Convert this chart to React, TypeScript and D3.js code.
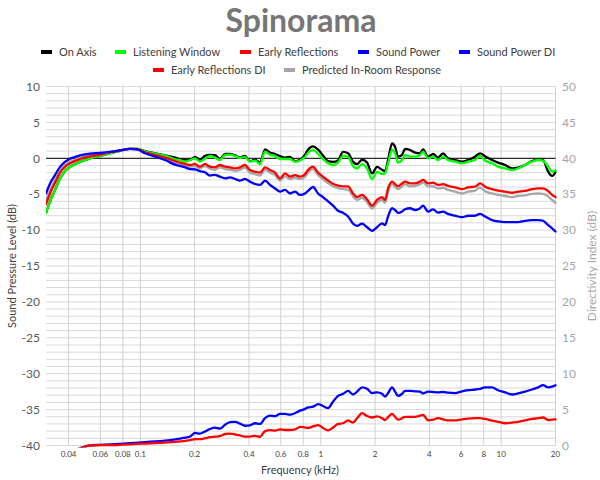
import React from "react";
import * as d3 from "d3";

const FREQ = [0.030,0.0316,0.0337,0.0359,0.0382,0.0408,0.0463,0.0526,0.0598,0.0679,0.0772,0.0876,0.0959,0.106,0.121,0.137,0.156,0.166,0.177,0.189,0.201,0.214,0.228,0.243,
0.259,0.276,0.295,0.314,0.335,0.357,0.380,0.405,0.432,0.461,0.491,0.523,0.558,0.595,0.634,0.676,0.720,0.768,0.818,
0.850,0.906,0.966,1.029,1.097,1.169,1.246,1.329,1.417,1.510,1.589,1.694,1.805,1.924,2.051,2.186,2.271,
2.360,2.484,2.581,2.682,2.822,2.932,3.125,3.332,3.551,3.690,3.933,4.193,4.468,4.763,5.076,5.551,6.069,6.551,7.164,7.638,8.140,8.900,9.609,10.51,11.49,12.40,13.56,14.83,16.01,17.07,18.19,19.15,20.0];

const ON_AXIS = [-7.6,-6.0,-4.4,-2.8,-1.8,-1.2,-0.5,0.0,0.32,0.7,1.05,1.3,1.3,1.0,0.68,0.4,0.09,-0.15,-0.24,-0.2,0.2,-0.24,0.35,0.46,
0.45,-0.1,0.6,0.6,0.4,0.15,0.35,-0.4,-0.2,-0.6,1.25,0.8,0.6,0.3,0.1,0.2,-0.4,-0.2,0.5,
1.2,1.65,1.2,0.4,-0.4,-0.5,-0.3,0.9,0.7,-0.5,-0.8,-0.2,-0.6,-2.1,-1.2,-1.6,-1.8,
-0.24,2.08,1.6,0.23,0.5,1.3,1.16,0.78,0.69,1.25,0.23,0.6,0.09,0.69,0.0,-0.24,-0.47,-0.24,0.23,0.69,0.3,-0.24,-0.6,-0.93,-1.4,-1.3,-0.93,-0.37,-0.14,-0.24,-1.86,-2.46,-1.9];

const LISTENING_WINDOW = [-7.6,-6.0,-4.4,-2.8,-1.8,-1.2,-0.5,0.0,0.32,0.7,1.05,1.3,1.3,0.97,0.65,0.37,-0.14,-0.24,-0.47,-0.24,0.0,-0.47,-0.05,0.32,
0.1,-0.24,0.46,0.5,0.32,0.05,0.2,-0.47,-0.33,-0.8,0.92,0.5,0.3,-0.1,-0.1,-0.1,-0.5,-0.3,0.2,
0.78,1.16,0.6,-0.1,-0.7,-0.93,-0.6,0.35,0.2,-1.1,-1.4,-0.8,-1.4,-2.9,-1.9,-2.2,-2.1,
-0.7,1.16,0.7,-0.6,-0.24,0.46,0.23,0.23,0.46,0.92,0.0,0.23,-0.24,0.23,-0.24,-0.47,-0.7,-0.47,-0.24,0.32,-0.3,-0.7,-1.16,-1.4,-1.63,-1.4,-0.93,-0.47,-0.24,-0.33,-1.16,-1.86,-1.7];

const EARLY_REFLECTIONS = [-6.4,-4.9,-3.4,-2.0,-1.2,-0.7,-0.1,0.27,0.5,0.85,1.1,1.3,1.28,0.83,0.45,0.09,-0.38,-0.6,-0.79,-0.93,-0.79,-1.17,-0.79,-1.17,
-1.26,-0.93,-1.17,-1.26,-1.4,-1.26,-0.93,-1.63,-1.86,-2.0,-1.26,-1.63,-2.0,-2.79,-2.1,-2.56,-2.33,-2.56,-2.2,
-1.63,-1.17,-2.0,-2.56,-3.1,-3.55,-3.8,-3.9,-3.9,-4.9,-5.4,-5.1,-5.7,-6.6,-5.8,-5.4,-5.8,
-4.2,-3.25,-3.6,-3.9,-3.5,-3.25,-3.5,-3.5,-3.25,-3.0,-3.5,-3.4,-3.7,-3.6,-3.85,-4.04,-4.3,-4.04,-3.95,-3.5,-3.95,-4.3,-4.5,-4.65,-4.8,-4.65,-4.55,-4.3,-4.2,-4.2,-4.55,-5.1,-5.4];

const SOUND_POWER = [-4.9,-3.5,-2.3,-1.2,-0.5,-0.05,0.4,0.65,0.74,0.88,1.1,1.3,1.25,0.7,0.23,-0.24,-0.89,-1.07,-1.26,-1.5,-1.55,-1.8,-1.95,-2.4,
-2.3,-2.56,-2.79,-2.65,-2.88,-3.1,-2.88,-3.25,-3.58,-3.7,-3.1,-3.7,-4.2,-4.65,-4.4,-4.9,-4.65,-5.1,-4.9,
-4.55,-4.0,-4.9,-5.4,-6.0,-6.6,-7.3,-7.6,-8.1,-9.1,-9.4,-9.1,-9.6,-10.1,-9.6,-9.05,-9.3,
-8.1,-6.96,-7.2,-7.6,-7.4,-7.1,-6.96,-7.2,-6.96,-6.6,-7.43,-7.1,-7.57,-7.43,-7.75,-8.0,-8.2,-8.0,-8.0,-7.75,-8.1,-8.6,-8.8,-8.9,-8.9,-8.9,-8.7,-8.6,-8.6,-8.7,-9.3,-9.75,-10.2];

const PREDICTED_IN_ROOM = [-5.9,-4.4,-3.0,-1.8,-0.95,-0.5,0.1,0.4,0.6,0.87,1.1,1.3,1.27,0.78,0.35,-0.05,-0.6,-0.84,-1.03,-1.17,-1.07,-1.4,-1.07,-1.45,
-1.6,-1.25,-1.5,-1.6,-1.75,-1.6,-1.3,-2.0,-2.2,-2.4,-1.6,-2.0,-2.35,-3.1,-2.5,-2.9,-2.7,-2.9,-2.6,
-2.0,-1.5,-2.35,-2.9,-3.45,-3.9,-4.15,-4.3,-4.35,-5.3,-5.8,-5.5,-6.1,-7.0,-6.2,-5.8,-6.2,
-4.65,-3.6,-4.0,-4.3,-3.95,-3.6,-3.9,-3.85,-3.6,-3.4,-3.9,-3.9,-4.2,-4.1,-4.4,-4.65,-4.9,-4.65,-4.5,-4.04,-4.6,-4.9,-5.1,-5.25,-5.4,-5.25,-5.15,-4.95,-4.9,-4.95,-5.3,-5.8,-6.2];

const SOUND_POWER_DI = [-2.0,-1.8,-1.6,-1.4,-1.2,-0.9,-0.4,0.02,0.1,0.15,0.22,0.32,0.4,0.46,0.56,0.68,0.85,0.95,1.1,1.25,1.75,1.65,1.95,2.3,
2.5,2.35,2.9,3.25,3.3,3.05,2.75,2.8,3.1,3.0,3.8,4.15,4.1,4.4,4.4,4.3,4.5,4.85,5.1,
5.3,5.4,5.75,5.5,5.2,6.1,6.9,7.2,7.6,7.1,7.5,8.1,7.9,7.3,7.4,7.2,6.8,
7.3,8.1,7.5,6.9,7.2,7.6,7.6,7.55,7.5,7.25,7.5,7.45,7.4,7.45,7.35,7.3,7.55,7.7,7.8,7.9,8.1,8.1,7.7,7.4,7.1,7.25,7.5,7.8,8.1,8.4,8.1,8.2,8.4];

const EARLY_REFLECTIONS_DI = [-2.0,-1.8,-1.6,-1.4,-1.2,-0.9,-0.4,0.0,0.04,0.06,0.1,0.17,0.22,0.27,0.35,0.42,0.5,0.56,0.65,0.74,0.9,0.88,1.0,1.17,
1.23,1.3,1.6,1.65,1.55,1.4,1.23,1.25,1.35,1.2,2.0,2.15,2.07,2.25,2.16,2.16,2.25,2.6,2.5,
2.45,2.65,2.85,2.45,2.1,2.5,3.0,3.1,3.5,3.2,3.8,4.5,4.1,3.9,4.05,3.8,3.55,
3.95,4.4,4.0,3.6,3.8,4.0,4.0,4.0,4.15,4.25,3.5,3.6,3.8,3.65,3.5,3.5,3.65,3.75,3.8,3.8,3.7,3.45,3.3,3.1,3.2,3.3,3.5,3.7,3.8,3.9,3.55,3.6,3.65];

const X_TICKS = [0.04, 0.06, 0.08, 0.1, 0.2, 0.4, 0.6, 0.8, 1, 2, 4, 6, 8, 10, 20];
const Y_TICKS = [-40, -35, -30, -25, -20, -15, -10, -5, 0, 5, 10];
const DI_TICKS = [0, 5, 10, 15, 20, 25, 30, 35, 40, 45, 50];

const SERIES_LEFT = [
  { name: "On Axis", values: ON_AXIS, color: "#000000" },
  { name: "Listening Window", values: LISTENING_WINDOW, color: "#00ff00" },
  { name: "Predicted In-Room Response", values: PREDICTED_IN_ROOM, color: "#a6a6a6" },
  { name: "Early Reflections", values: EARLY_REFLECTIONS, color: "#ff0000" },
  { name: "Sound Power", values: SOUND_POWER, color: "#0000ff" },
];
const SERIES_RIGHT = [
  { name: "Sound Power DI", values: SOUND_POWER_DI, color: "#0000ff" },
  { name: "Early Reflections DI", values: EARLY_REFLECTIONS_DI, color: "#ff0000" },
];

const LEGEND_ROW1 = [
  { name: "On Axis", color: "#000000" },
  { name: "Listening Window", color: "#00ff00" },
  { name: "Early Reflections", color: "#ff0000" },
  { name: "Sound Power", color: "#0000ff" },
  { name: "Sound Power DI", color: "#0000ff" },
];
const LEGEND_ROW2 = [
  { name: "Early Reflections DI", color: "#ff0000" },
  { name: "Predicted In-Room Response", color: "#a6a6a6" },
];

const FONT = "Lato, 'Open Sans', sans-serif";

function fmtTick(v: number) {
  return String(v);
}

export default function App() {
  const W = 600, H = 480;
  const L = 46, R = 555.5, T = 86.5, B = 445.5;
  const x = d3.scaleLog().domain([0.03, 20]).range([L, R]);
  const y = d3.scaleLinear().domain([-40, 10]).range([B, T]);
  const yR = d3.scaleLinear().domain([0, 50]).range([B, T]);

  const lineL = d3.line<number>().x((_, i) => x(FREQ[i])).y((d) => y(d)).curve(d3.curveMonotoneX);
  const lineR = d3.line<number>().x((_, i) => x(FREQ[i])).y((d) => yR(d)).curve(d3.curveMonotoneX);

  const hGrid = d3.range(-40, 11, 1);

  const legendItem = (items: { name: string; color: string }[], startXs: number[], yy: number) =>
    items.map((it, i) => (
      <g key={it.name} transform={`translate(${startXs[i]},${yy})`}>
        <rect x={0} y={-2} width={11} height={4} fill={it.color} />
        <text x={18} y={0} dy="0.35em" fontSize={11} fill="#404040" fontFamily={FONT}>{it.name}</text>
      </g>
    ));

  return (
    <svg width={W} height={H} style={{ position: "absolute", left: 0, top: 0, background: "#fff" }}>
      <defs>
        <clipPath id="plotclip">
          <rect x={L} y={T - 3} width={R - L + 2} height={B - T + 5} />
        </clipPath>
      </defs>
      <rect x={0} y={0} width={W} height={H} fill="#ffffff" />
      <text x={301} y={32} textAnchor="middle" fontSize={32} fontWeight="bold" fill="#767676" fontFamily={FONT}>Spinorama</text>
      {legendItem(LEGEND_ROW1, [41, 115, 240, 358, 459], 52)}
      {legendItem(LEGEND_ROW2, [153, 284], 70)}

      {hGrid.map((v) => (
        <line key={"h" + v} x1={L} x2={R} y1={y(v)} y2={y(v)} stroke="#d9d9d9" strokeWidth={1} />
      ))}
      {X_TICKS.map((f) => (
        <line key={"v" + f} x1={x(f)} x2={x(f)} y1={T} y2={B} stroke="#d0d0d0" strokeWidth={1} />
      ))}
      <line x1={L} x2={R} y1={y(0)} y2={y(0)} stroke="#000000" strokeWidth={1} />

      <g clipPath="url(#plotclip)" fill="none" strokeLinejoin="round" strokeLinecap="round">
        {SERIES_LEFT.map((s) => (
          <path key={s.name} d={lineL(s.values) || ""} stroke={s.color} strokeWidth={2.3} />
        ))}
        {SERIES_RIGHT.map((s) => (
          <path key={s.name} d={lineR(s.values) || ""} stroke={s.color} strokeWidth={2.3} />
        ))}
      </g>

      {Y_TICKS.map((v) => (
        <text key={"yl" + v} x={40} y={y(v)} dy="0.35em" textAnchor="end" fontSize={12} fill="#595959" fontFamily={FONT}>{fmtTick(v)}</text>
      ))}
      {DI_TICKS.map((v) => (
        <text key={"yr" + v} x={562} y={yR(v)} dy="0.35em" textAnchor="start" fontSize={12} fill="#a6a6a6" fontFamily={FONT}>{fmtTick(v)}</text>
      ))}
      {X_TICKS.map((f) => (
        <text key={"xl" + f} x={x(f)} y={454} dy="0.35em" textAnchor="middle" fontSize={8} fill="#404040" fontFamily={FONT}>{fmtTick(f)}</text>
      ))}
      <text x={300} y={470} dy="0.35em" textAnchor="middle" fontSize={11} fill="#404040" fontFamily={FONT}>Frequency (kHz)</text>
      <text transform={`translate(12,${(T + B) / 2}) rotate(-90)`} dy="0.35em" textAnchor="middle" fontSize={11} fill="#404040" fontFamily={FONT}>Sound Pressure Level (dB)</text>
      <text transform={`translate(592,${(T + B) / 2}) rotate(-90)`} dy="0.35em" textAnchor="middle" fontSize={12} fill="#a6a6a6" fontFamily={FONT}>Directivity Index (dB)</text>
    </svg>
  );
}
